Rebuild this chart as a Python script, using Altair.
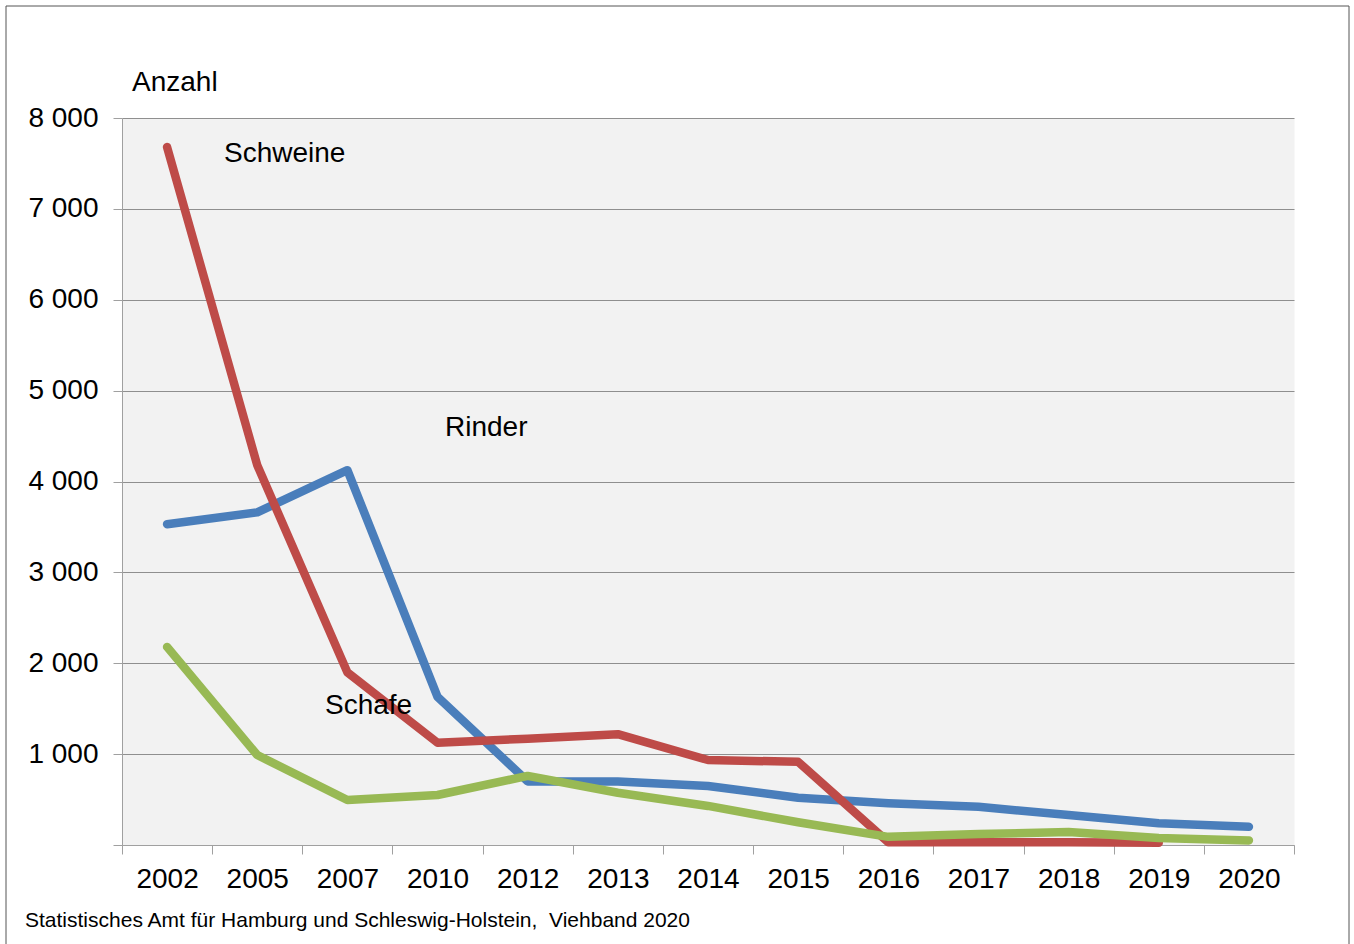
import altair as alt
import pandas as pd

# Viehbestand (Anzahl) nach Jahren
years = ["2002", "2005", "2007", "2010", "2012", "2013", "2014",
         "2015", "2016", "2017", "2018", "2019", "2020"]
rinder = [3530, 3660, 4125, 1630, 700, 700, 650, 520, 460, 420, 330, 240, 200]
schweine = [7680, 4180, 1900, 1125, 1170, 1220, 935, 915, 30, 30, 30, 25, None]
schafe = [2180, 990, 495, 550, 760, 575, 430, 250, 90, 120, 143, 77, 50]

series_names = ["Rinder", "Schweine", "Schafe"]
series_colors = ["#4a7ebb", "#be4b48", "#98b954"]

rows = []
for name, vals in zip(series_names, [rinder, schweine, schafe]):
    for y, v in zip(years, vals):
        if v is not None:
            rows.append({"Jahr": y, "Anzahl": v, "Art": name})
df = pd.DataFrame(rows)

FONT = "Liberation Sans"
AXIS_GRAY = "#a0a0a0"
LABEL_SIZE = 28

x_enc = alt.X(
    "Jahr:O",
    sort=years,
    bandPosition=0.5,
    scale=alt.Scale(type="band", paddingInner=0, paddingOuter=0),
    axis=alt.Axis(
        title=None, labelAngle=0, tickBand="extent", tickSize=9,
        tickColor=AXIS_GRAY, domainColor=AXIS_GRAY, labelFontSize=LABEL_SIZE,
        labelFont=FONT, labelColor="black", labelPadding=11, grid=False,
    ),
)
y_enc = alt.Y(
    "Anzahl:Q",
    scale=alt.Scale(domain=[0, 8000], nice=False),
    axis=alt.Axis(
        title=None, values=list(range(0, 8001, 1000)), tickSize=9,
        tickColor=AXIS_GRAY, domainColor=AXIS_GRAY, gridColor="#8f8f8f",
        gridWidth=1, labelFontSize=LABEL_SIZE, labelFont=FONT, labelColor="black",
        labelPadding=15,
        labelExpr="datum.value == 0 ? '' : replace(format(datum.value, ','), ',', ' ')",
    ),
)

base = alt.Chart(df)
lines = [
    base.transform_filter(alt.datum.Art == name)
    .mark_line(color=col, strokeWidth=8.5, strokeCap="round", strokeJoin="round")
    .encode(x=x_enc, y=y_enc)
    for name, col in zip(series_names, series_colors)
]


def label(text, x, y, size=LABEL_SIZE):
    return alt.Chart(pd.DataFrame({"t": [text]})).mark_text(
        align="left", baseline="alphabetic", font=FONT, fontSize=size, color="black"
    ).encode(text="t:N", x=alt.value(x), y=alt.value(y))


labels = [
    label("Anzahl", 10, -27),
    label("Schweine", 102, 44),
    label("Rinder", 323, 318),
    label("Schafe", 203, 596),
    label("Statistisches Amt für Hamburg und Schleswig-Holstein,\u00a0 Viehband 2020", -97, 809, 21),
]

# frame around the whole graphic
frame_color = "#555555"
frame = [
    alt.Chart(pd.DataFrame({"a": [0]})).mark_rule(color=frame_color, strokeWidth=1).encode(
        x=alt.value(-116), x2=alt.value(1227), y=alt.value(-112)),
    alt.Chart(pd.DataFrame({"a": [0]})).mark_rule(color=frame_color, strokeWidth=1).encode(
        x=alt.value(-116), y=alt.value(-112), y2=alt.value(840)),
    alt.Chart(pd.DataFrame({"a": [0]})).mark_rule(color=frame_color, strokeWidth=1).encode(
        x=alt.value(1227), y=alt.value(-112), y2=alt.value(840)),
]

chart = alt.layer(*lines, *labels, *frame).properties(
    width=1172,
    height=727,
    autosize=alt.AutoSizeParams(type="none"),
    padding={"left": 122, "top": 118, "right": 60, "bottom": 99},
    background="white",
).configure_view(fill="#f2f2f2", stroke="transparent")

chart.save("out.html", embed_options={"renderer": "svg", "actions": False})
